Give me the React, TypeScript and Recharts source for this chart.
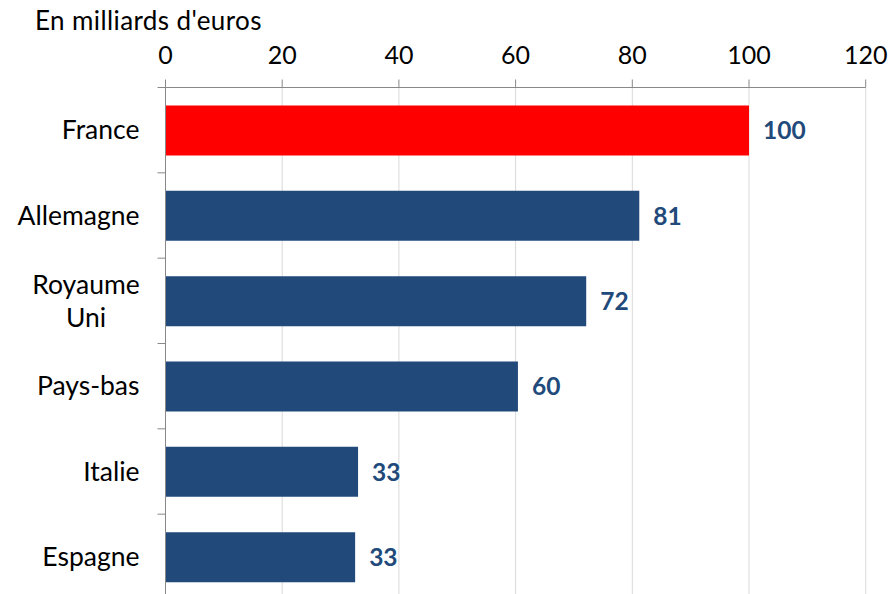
import React from 'react';
import {
  BarChart,
  Bar,
  XAxis,
  YAxis,
  CartesianGrid,
  Cell,
  LabelList
} from 'recharts';

const countries = ['France', 'Allemagne', 'Royaume Uni', 'Pays-bas', 'Italie', 'Espagne'];
const amounts = [100, 81.2, 72.1, 60.4, 33.0, 32.5];
const xTicks = [0, 20, 40, 60, 80, 100, 120];

const data = countries.map((name, i) => ({ name, value: amounts[i] }));

const FONT = 'Lato, "Noto Sans", sans-serif';
const BLUE = '#214A7B';
const PLOT_LEFT = 165.5;
const BAND = 512 / 6;

// category label + a tick mark at the band's upper edge (Excel style)
const CountryTick = (props: any) => {
  const { y, payload } = props;
  const words: string[] = payload.value.split(' ');
  const top = y - BAND / 2;
  return (
    <g>
      <line x1={PLOT_LEFT - 8} x2={PLOT_LEFT} y1={top} y2={top} stroke="#888888" strokeWidth={1} />
      {words.length === 1 ? (
        <text x={PLOT_LEFT - 26} y={y} dy="0.35em" textAnchor="end" fill="#000" fontSize={26.5} fontFamily={FONT}>
          {payload.value}
        </text>
      ) : (
        <text x={86} y={y} textAnchor="middle" fill="#000" fontSize={26.5} fontFamily={FONT}>
          {words.map((w, i) => (
            <tspan key={w} x={86} dy={i === 0 ? '-0.25em' : '1.25em'}>{w}</tspan>
          ))}
        </text>
      )}
    </g>
  );
};

const App: React.FC = () => {
  return (
    <div style={{ position: 'absolute', left: 0, top: 0, width: 891, height: 594, overflow: 'hidden', background: '#fff' }}>
      <div style={{ position: 'absolute', left: 35, top: 5, fontFamily: FONT, fontSize: 26, letterSpacing: 0.4, color: '#000', lineHeight: '30px' }}>
        En milliards d'euros
      </div>
      <BarChart
        width={891}
        height={600}
        data={data}
        layout="vertical"
        margin={{ top: 27.5, right: 25.3, bottom: 0.5, left: 5.5 }}
      >
        <CartesianGrid horizontal={false} stroke="#d9d9d9" />
        <XAxis
          type="number"
          orientation="top"
          domain={[0, 120]}
          ticks={xTicks}
          height={60}
          stroke="#888888"
          tickSize={8}
          tickMargin={16}
          tick={{ fill: '#000', fontSize: 25, fontFamily: FONT }}
        />
        <YAxis
          type="category"
          dataKey="name"
          width={160}
          stroke="#888888"
          tickLine={false}
          tick={<CountryTick />}
          interval={0}
        />
        <Bar dataKey="value" barSize={50} isAnimationActive={false}>
          {data.map((d, i) => (
            <Cell key={d.name} fill={i === 0 ? '#FF0000' : BLUE} />
          ))}
          <LabelList
            dataKey="value"
            position="right"
            offset={14}
            formatter={(v: any) => Math.round(Number(v))}
            fill={BLUE}
            fontSize={24.5}
            fontWeight="bold"
            fontFamily={FONT}
          />
        </Bar>
      </BarChart>
    </div>
  );
};

export default App;
